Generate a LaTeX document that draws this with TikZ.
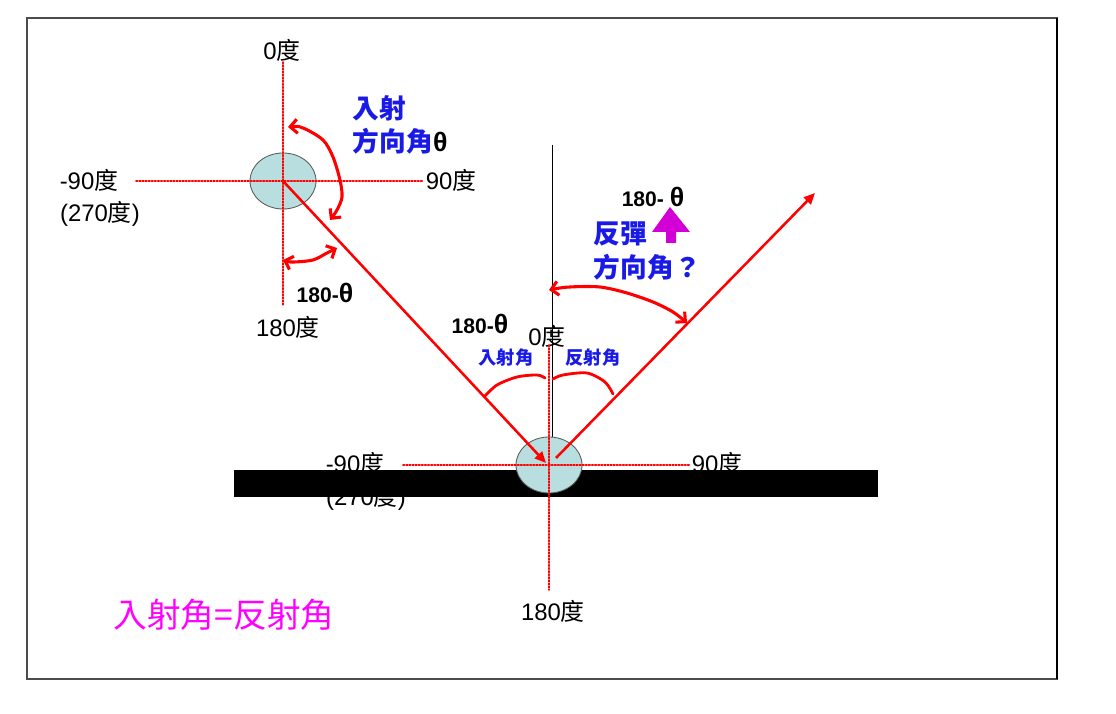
\documentclass[tikz,border=0pt]{standalone}
\usepackage{fontspec, tkz-euclide}
\usetikzlibrary{arrows.meta, shapes.geometric}
\setmainfont{Liberation Sans}
\newfontfamily\cjk{Noto Sans CJK TC}
\newcommand{\du}{{\cjk 度}}
\newcommand{\thet}{{\normalfont\bfseries\color{black}\fontsize{19}{20}\selectfont θ}}
\definecolor{ballblue}{RGB}{184,222,224}
\definecolor{labelblue}{RGB}{26,26,230}
\definecolor{eqpink}{RGB}{255,0,255}
\definecolor{arrowpink}{RGB}{210,0,215}
\tikzset{
  axis/.style = {red, line width = 1.1pt, dash pattern = on 1.1pt off 1.1pt},
  ray/.style = {red, line width = 1.8pt, -{Triangle[length = 8pt, width = 7pt]}},
  hand/.style = {red, line width = 2.2pt, line cap = round,
    {Straight Barb[length = 5pt, width = 10pt]}-{Straight Barb[length = 5pt, width = 10pt]}},
  brace/.style = {red, line width = 2pt, line cap = round},
  ball/.style = {ellipse, draw = gray!70!black, fill = ballblue, line width = 0.6pt,
    minimum width = 1.65cm, minimum height = 1.4cm, inner sep = 0pt},
  degtext/.style = {font = \fontsize{17}{20}\selectfont, inner sep = 1pt},
  bluebold/.style = {text = labelblue, font = \cjk\bfseries\fontsize{19}{24}\selectfont, align = left},
  bluesmall/.style = {text = labelblue, font = \cjk\bfseries\fontsize{13}{16}\selectfont},
  thetext/.style = {font = \bfseries\fontsize{15}{18}\selectfont}
}
\begin{document}
\begin{tikzpicture}[x = 0.025cm, y = 0.025cm]
\useasboundingbox (0,0) rectangle (1116,714);
\draw [gray!60!black, line width = 0.8pt] (27,35) rectangle (1057,696);
\draw [line width = 1.4pt] (1057,35) -- (1057,696);
\tkzDefPoints{283/533/U, 549/249/L, 546/251/P, 556/256/Q, 815/521/R}
\tkzDefPoints{283/652/UN, 283/409/US, 136/533/UW, 423/533/UE}
\tkzDefPoints{549/369/LN, 549/124/LS, 403/249/LW, 690/249/LE, 552/569/M, 552/277/MB}
\node (n0) at (282,664) [degtext] {0\du};
\node (nw) at (89,534) [degtext] {-90\du};
\node (nw2) at (100,500) [degtext] {(270\du)};
\node (ne) at (451,534) [degtext] {90\du};
\node (ns) at (288,387) [degtext] {180\du};
\node (lw) at (355,251) [degtext] {-90\du};
\node (lw2) at (366,216) [degtext] {(270\du)};
\node (le) at (717,251) [degtext] {90\du};
\node (ln) at (547,378) [degtext] {0\du};
\node (ls) at (553,103) [degtext] {180\du};
\draw [line width = 0.6pt] (M) -- (MB);
\fill (234,217) rectangle (878,244);
\node (ballU) at (U) [ball] {};
\node (ballL) at (L) [ball] {};
\tkzDrawSegment[axis](UN,US)
\tkzDrawSegment[axis](UW,UE)
\tkzDrawSegment[axis](LN,LS)
\tkzDrawSegment[axis](LW,LE)
\draw [ray] (ballU.center) -- (P);
\draw [ray] (Q) -- (R);
\draw [hand] plot [smooth] coordinates {(288,587) (303,586) (323,574) (333,557) (340,534) (342,517) (337,504) (330,494)};
\draw [hand] plot [smooth] coordinates {(283,454) (293,452) (313,454) (327,461) (337,466)};
\draw [hand] plot [smooth] coordinates {(549,424) (570,427) (600,427) (627,421) (653,412) (673,402) (687,391)};
\draw [brace] plot [smooth] coordinates {(485,318) (497,329) (517,337) (537,339) (545,336)};
\draw [brace] plot [smooth] coordinates {(553,335) (563,339) (587,341) (605,332) (613,320)};
\node (inc) at (348,589) [bluebold, anchor = west] {入射\\方向角\thet};
\node (bnc) at (589,463) [bluebold, anchor = west] {反彈\\方向角？};
\node (ia) at (506,356) [bluesmall] {入射角};
\node (ra) at (593,356) [bluesmall] {反射角};
\node (a1) at (325,421) [thetext] {180-\thet};
\node (a2) at (480,390) [thetext] {180-\thet};
\node (a3) at (653,517) [thetext] {180- \thet};
\fill [arrowpink] (666,471) -- (666,482) -- (652,482) -- (670,507) -- (690,482) -- (676,482) -- (676,471) -- cycle;
\node (eq) at (224,99) [text = eqpink, font = \cjk\fontsize{24}{27}\selectfont] {入射角=反射角};
\end{tikzpicture}
\end{document}
